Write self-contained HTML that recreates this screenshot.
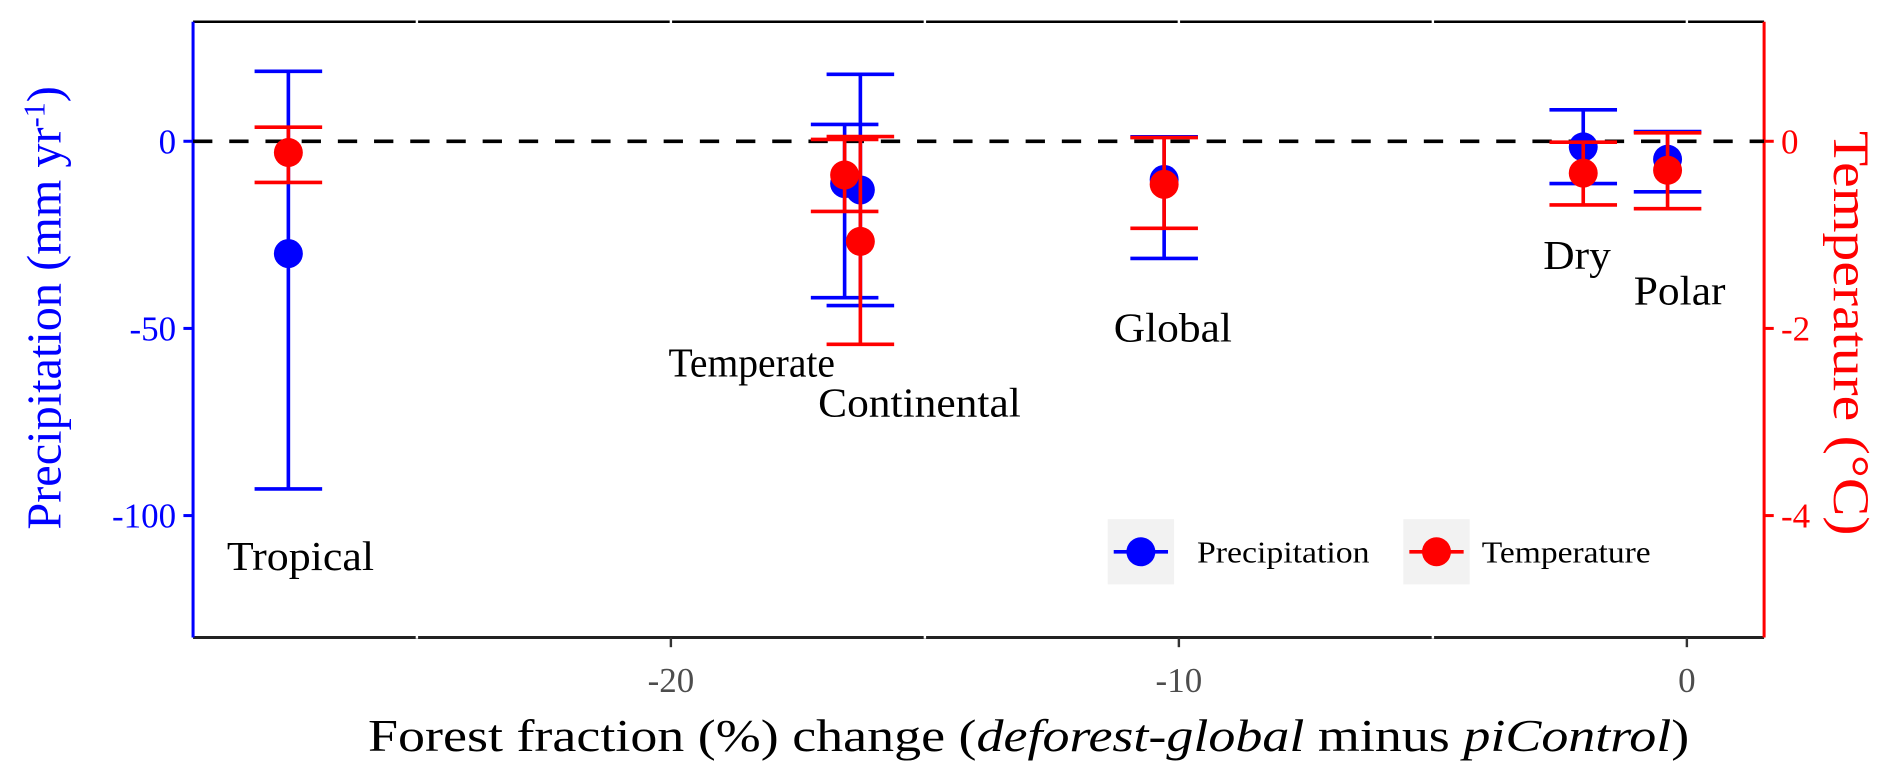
<!DOCTYPE html>
<html><head><meta charset="utf-8"><style>
html,body{margin:0;padding:0;background:#fff;width:1892px;height:780px;overflow:hidden}
svg{display:block;font-family:"Liberation Serif","Times New Roman",serif}
svg text{font-family:"Liberation Serif","Times New Roman",serif}
</style></head><body>
<svg id="chart" width="1892" height="780" viewBox="0 0 1568 646" preserveAspectRatio="none" xmlns="http://www.w3.org/2000/svg" font-family="Liberation Serif, serif">
<g id="axes"></g>
<g id="marks"></g>
<g id="labels"></g>
</svg>
<script>
const regions = ["Tropical","Temperate","Continental","Global","Dry","Polar"];
const forestChange = [-27.53,-16.58,-16.27,-10.29,-2.04,-0.38];
const precipMean = [-30.0,-11.3,-13.0,-10.2,-1.5,-4.8];
const precipHigh = [18.7,4.5,17.9,1.2,8.4,2.6];
const precipLow = [-92.9,-41.8,-43.9,-31.3,-11.3,-13.5];
const tempMean = [-0.12,-0.36,-1.07,-0.46,-0.34,-0.31];
const tempHigh = [0.15,0.02,0.05,0.04,-0.01,0.09];
const tempLow = [-0.44,-0.75,-2.17,-0.93,-0.68,-0.72];
const xTicks = [-20,-10,0];
const xMinor = [-25,-15,-5];
const precipTicks = [0,-50,-100];
const tempTicks = [0,-2,-4];
const labelPos = [[249,472],[623,312],[762,345],[972,283],[1307,223],[1392,252]];
const labelWidth = [122,138,168,98,56,76];

const L=160,R=1462,T=18,B=528;
const xs=v=>1398+v*42.1;
const yp=v=>117-v*3.1;
const yt=v=>117-v*77.5;
const NS="http://www.w3.org/2000/svg";
function mk(tag,attrs,parent,text){const e=document.createElementNS(NS,tag);for(const k in attrs)e.setAttribute(k,attrs[k]);if(text!==undefined)e.textContent=text;parent.appendChild(e);return e;}
const ax=document.getElementById('axes'),mg=document.getElementById('marks'),lg=document.getElementById('labels');

let e;
e=mk('line',{x1:L,y1:T,x2:R,y2:T,stroke:'#000','stroke-width':2},ax);

e=mk('line',{x1:L,y1:B,x2:R,y2:B,stroke:'#222','stroke-width':2.5},ax);

xMinor.concat(xTicks).forEach(v=>{
  e=mk('line',{x1:xs(v),y1:T-2,x2:xs(v),y2:T+2,stroke:'#fff','stroke-width':2},ax);
  
});
xMinor.forEach(v=>{
  e=mk('line',{x1:xs(v),y1:B-2,x2:xs(v),y2:B+1,stroke:'#fff','stroke-width':2},ax);
  
});
e=mk('line',{x1:L,y1:T,x2:L,y2:B,stroke:'#00f','stroke-width':2.5},ax);

e=mk('line',{x1:R,y1:T,x2:R,y2:B,stroke:'#f00','stroke-width':2.5},ax);


xTicks.forEach(v=>{
  e=mk('line',{x1:xs(v),y1:B,x2:xs(v),y2:B+8,stroke:'#333','stroke-width':2},ax);
  
  e=mk('text',{x:xs(v),y:B+45,'text-anchor':'middle','font-size':29,fill:'#4d4d4d'},ax,String(v));
  
});
precipTicks.forEach(v=>{
  e=mk('line',{x1:L-8,y1:yp(v),x2:L,y2:yp(v),stroke:'#00f','stroke-width':2.5},ax);
  
  e=mk('text',{x:L-14,y:yp(v)+10,'text-anchor':'end','font-size':29,fill:'#00f'},ax,String(v));
  
});
tempTicks.forEach(v=>{
  e=mk('line',{x1:R,y1:yt(v),x2:R+8,y2:yt(v),stroke:'#f00','stroke-width':2.5},ax);
  
  e=mk('text',{x:R+14,y:yt(v)+10,'text-anchor':'start','font-size':29,fill:'#f00'},ax,String(v));
  
});
e=mk('line',{x1:L,y1:yp(0),x2:R,y2:yp(0),stroke:'#000','stroke-width':3,'stroke-dasharray':'16 14'},ax);


function errbar(x,lo,hi,col,name){
  const g=mk('g',{},mg);
  
  mk('line',{x1:x,y1:hi,x2:x,y2:lo,stroke:col,'stroke-width':3},g);
  mk('line',{x1:x-28,y1:hi,x2:x+28,y2:hi,stroke:col,'stroke-width':3},g);
  mk('line',{x1:x-28,y1:lo,x2:x+28,y2:lo,stroke:col,'stroke-width':3},g);
}
regions.forEach((r,i)=>{
  const x=xs(forestChange[i]);
  errbar(x,yp(precipLow[i]),yp(precipHigh[i]),'#00f','precip-errorbar-'+r.toLowerCase());
});
regions.forEach((r,i)=>{
  const x=xs(forestChange[i]);
  e=mk('circle',{cx:x,cy:yp(precipMean[i]),r:12,fill:'#00f'},mg);
  
});
regions.forEach((r,i)=>{
  const x=xs(forestChange[i]);
  errbar(x,yt(tempLow[i]),yt(tempHigh[i]),'#f00','temp-errorbar-'+r.toLowerCase());
  e=mk('circle',{cx:x,cy:yt(tempMean[i]),r:12,fill:'#f00'},mg);
  
});
regions.forEach((r,i)=>{
  e=mk('text',{x:labelPos[i][0],y:labelPos[i][1],'text-anchor':'middle','font-size':34,fill:'#000',textLength:labelWidth[i],lengthAdjust:'spacingAndGlyphs'},lg,r);
  
});

[[918,'#00f','Precipitation',992,143],[1163,'#f00','Temperature',1228,140]].forEach(([bx,col,txt,tx,tw])=>{
  const g=mk('g',{},lg);
  
  mk('rect',{x:bx,y:430,width:55,height:54,fill:'#f2f2f2'},g);
  mk('line',{x1:bx+5,y1:457,x2:bx+50,y2:457,stroke:col,'stroke-width':3},g);
  mk('circle',{cx:bx+27.5,cy:457,r:12,fill:col},g);
  mk('text',{x:tx,y:466,'font-size':25,fill:'#000',textLength:tw,lengthAdjust:'spacingAndGlyphs'},g,txt);
});
</script>
<script>
(function(){
const svg=document.getElementById('chart');
const NS="http://www.w3.org/2000/svg";
let t=document.createElementNS(NS,'text');


t.setAttribute('x','305');t.setAttribute('y','622');t.setAttribute('font-size','38');
t.setAttribute('textLength','1095');t.setAttribute('lengthAdjust','spacingAndGlyphs');
t.innerHTML='Forest fraction (%) change (<tspan font-style="italic">deforest-global</tspan> minus <tspan font-style="italic">piControl</tspan>)';
svg.appendChild(t);
t=document.createElementNS(NS,'text');


t.setAttribute('transform','translate(50,255) rotate(-90)');t.setAttribute('text-anchor','middle');
t.setAttribute('font-size','40');t.setAttribute('fill','#00f');
t.innerHTML='Precipitation (mm yr<tspan dy="-13" font-size="25">-1</tspan><tspan dy="13">)</tspan>';
svg.appendChild(t);
t=document.createElementNS(NS,'text');


t.setAttribute('transform','translate(1520,276) rotate(90)');t.setAttribute('text-anchor','middle');
t.setAttribute('font-size','42');t.setAttribute('fill','#f00');
t.setAttribute('textLength','335');t.setAttribute('lengthAdjust','spacingAndGlyphs');
t.textContent='Temperature (°C)';
svg.appendChild(t);
})();
</script>
</body></html>
